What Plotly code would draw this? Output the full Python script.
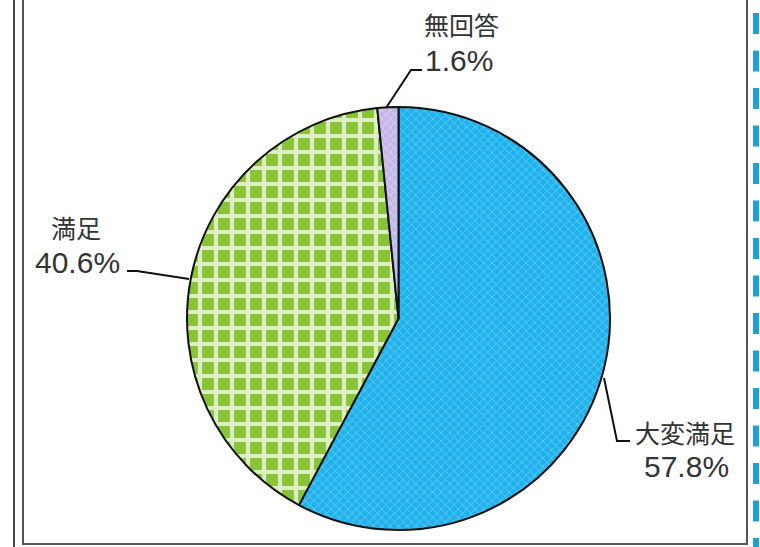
import plotly.graph_objects as go

# Data
categories = ["大変満足", "満足", "無回答"]
values = [57.8, 40.6, 1.6]
pct_labels = ["57.8%", "40.6%", "1.6%"]

W, H = 760, 547

def px(x):
    return x / W

def py(y):
    return 1 - y / H

fig = go.Figure()
fig.add_trace(go.Pie(
    labels=categories,
    values=values,
    sort=False,
    direction="clockwise",
    rotation=0,
    textinfo="none",
    hoverinfo="label+percent",
    showlegend=False,
    marker=dict(
        colors=["#1FB2EC", "#8CC63A", "#C3B7E8"],
        line=dict(color="#111111", width=2),
        pattern=dict(
            shape=["x", "+", "x"],
            fgcolor=["#6FD0F6", "rgba(255,255,255,0.7)", "#E0D8F5"],
            bgcolor=["#1FB2EC", "#88C436", "#C3B7E8"],
            size=[6, 16, 6],
            solidity=[0.25, 0.45, 0.25],
        ),
    ),
    domain=dict(x=[px(187), px(610)], y=[py(530), py(107)]),
))

font_jp = "Noto Sans CJK JP, Noto Sans, sans-serif"
font_num = "Liberation Sans, Arial, sans-serif"

label_pos = {
    "無回答": ((461, 24), (459, 60)),
    "満足": ((76, 227), (77, 262)),
    "大変満足": ((685, 432), (686, 466)),
}
annotations = []
for cat, pct in zip(categories, pct_labels):
    (x1, y1), (x2, y2) = label_pos[cat]
    annotations.append(dict(x=px(x1), y=py(y1), xref="paper", yref="paper",
                            text=cat, showarrow=False,
                            font=dict(family=font_jp, size=25, color="#333333"),
                            xanchor="center", yanchor="middle"))
    annotations.append(dict(x=px(x2), y=py(y2), xref="paper", yref="paper",
                            text=pct, showarrow=False,
                            font=dict(family=font_num, size=30, color="#333333"),
                            xanchor="center", yanchor="middle"))

shapes = []
def line_path(points, color="#111111", width=2):
    d = "M " + " L ".join(f"{px(x):.5f},{py(y):.5f}" for x, y in points)
    return dict(type="path", path=d, xref="paper", yref="paper",
                line=dict(color=color, width=width))

# leader lines
shapes.append(line_path([(386, 108), (411, 70), (422, 70)]))
shapes.append(line_path([(127, 271), (137, 271), (189, 279)]))
shapes.append(line_path([(604, 378), (617, 441), (630, 441)]))

# frame lines
shapes.append(line_path([(14, -5), (14, 552)], color="#444444", width=2))
shapes.append(line_path([(23, -5), (23, 544), (747, 544), (747, -5)], color="#555555", width=2))

# blue dashes on the right edge
for i in range(15):
    y0 = 13 + i * 37.5
    shapes.append(dict(type="rect", xref="paper", yref="paper",
                       x0=px(753), x1=px(759), y0=py(y0 + 21), y1=py(y0),
                       fillcolor="#1E9FD8", line=dict(width=0)))

fig.update_layout(
    width=W, height=H,
    margin=dict(l=0, r=0, t=0, b=0),
    paper_bgcolor="white",
    plot_bgcolor="white",
    annotations=annotations,
    shapes=shapes,
)

fig.write_html("out.html")
